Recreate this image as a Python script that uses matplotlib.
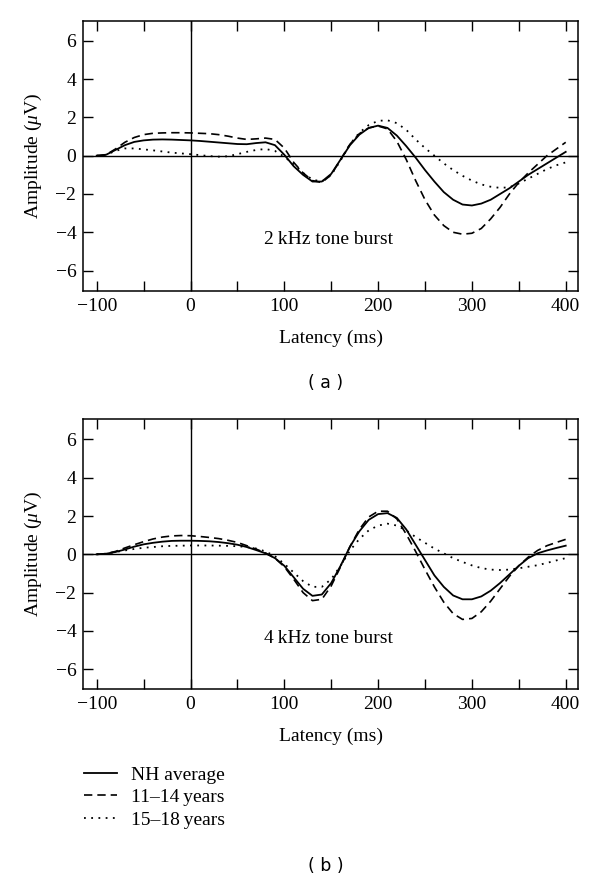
import matplotlib
matplotlib.use("Agg")
import matplotlib.pyplot as plt
from matplotlib.lines import Line2D
from matplotlib.ticker import FixedLocator, FuncFormatter

plt.rcParams['font.family'] = ['Liberation Serif', 'DejaVu Serif']
plt.rcParams['mathtext.fontset'] = 'custom'
plt.rcParams['mathtext.rm'] = 'Liberation Serif'
plt.rcParams['mathtext.it'] = 'Liberation Serif:italic'
plt.rcParams['axes.unicode_minus'] = True

latency = list(range(-100, 401, 10))

nh_2k = [0.0, 0.05, 0.3, 0.55, 0.72, 0.8, 0.84, 0.85, 0.84, 0.82,
         0.8, 0.77, 0.73, 0.69, 0.65, 0.61, 0.6, 0.66, 0.7, 0.55,
         0.05, -0.55, -1.0, -1.35, -1.35, -0.95, -0.2, 0.55, 1.1, 1.45,
         1.57, 1.45, 1.05, 0.5, -0.1, -0.75, -1.35, -1.9, -2.3, -2.55,
         -2.6, -2.5, -2.3, -2.0, -1.7, -1.35, -1.0, -0.7, -0.4, -0.1, 0.2]
y1114_2k = [0.0, 0.05, 0.35, 0.7, 0.95, 1.1, 1.17, 1.19, 1.2, 1.2,
            1.19, 1.17, 1.15, 1.1, 1.02, 0.92, 0.85, 0.88, 0.92, 0.85,
            0.4, -0.35, -0.9, -1.3, -1.4, -1.0, -0.2, 0.6, 1.15, 1.45,
            1.55, 1.4, 0.75, -0.2, -1.3, -2.3, -3.1, -3.65, -4.0, -4.1,
            -4.05, -3.8, -3.3, -2.7, -2.0, -1.4, -0.9, -0.45, 0.0, 0.35, 0.7]
y1518_2k = [0.0, 0.05, 0.25, 0.38, 0.38, 0.33, 0.28, 0.22, 0.16, 0.12,
            0.08, 0.03, -0.02, -0.05, -0.03, 0.08, 0.2, 0.3, 0.35, 0.25,
            -0.05, -0.45, -0.9, -1.25, -1.35, -1.0, -0.25, 0.6, 1.2, 1.6,
            1.82, 1.85, 1.7, 1.35, 0.85, 0.4, 0.0, -0.4, -0.75, -1.05,
            -1.3, -1.5, -1.62, -1.68, -1.65, -1.45, -1.2, -0.95, -0.7, -0.5, -0.35]

nh_4k = [0.0, 0.03, 0.12, 0.25, 0.4, 0.52, 0.6, 0.66, 0.7, 0.71,
         0.71, 0.7, 0.68, 0.64, 0.58, 0.5, 0.38, 0.22, 0.05, -0.2,
         -0.6, -1.2, -1.8, -2.17, -2.1, -1.5, -0.6, 0.4, 1.2, 1.8,
         2.1, 2.15, 1.9, 1.3, 0.5, -0.3, -1.1, -1.7, -2.15, -2.35,
         -2.35, -2.2, -1.9, -1.5, -1.05, -0.6, -0.2, 0.05, 0.2, 0.33, 0.45]
y1114_4k = [0.0, 0.03, 0.15, 0.33, 0.5, 0.66, 0.8, 0.9, 0.96, 0.98,
            0.97, 0.93, 0.88, 0.82, 0.73, 0.62, 0.45, 0.27, 0.07, -0.2,
            -0.65, -1.3, -2.0, -2.42, -2.35, -1.65, -0.65, 0.4, 1.3, 1.95,
            2.25, 2.25, 1.85, 1.05, 0.15, -0.8, -1.7, -2.5, -3.1, -3.4,
            -3.35, -3.0, -2.45, -1.8, -1.15, -0.6, -0.15, 0.2, 0.45, 0.62, 0.78]
y1518_4k = [0.0, 0.03, 0.12, 0.2, 0.28, 0.34, 0.38, 0.42, 0.44, 0.45,
            0.46, 0.46, 0.46, 0.45, 0.44, 0.42, 0.38, 0.3, 0.15, -0.1,
            -0.5, -0.95, -1.4, -1.7, -1.7, -1.3, -0.6, 0.2, 0.8, 1.25,
            1.5, 1.6, 1.5, 1.25, 0.9, 0.6, 0.3, 0.05, -0.2, -0.4,
            -0.58, -0.72, -0.8, -0.82, -0.8, -0.73, -0.65, -0.57, -0.45, -0.32, -0.2]

series_labels = ['NH average', '11\u201314\u2009years', '15\u201318\u2009years']
panel_titles = ['2\u2009kHz tone burst', '4\u2009kHz tone burst']
panel_tags = ['( a )', '( b )']
xticks = list(range(-100, 401, 50))
yticks = [-6, -4, -2, 0, 2, 4, 6]

W, H = 600, 886
fig = plt.figure(figsize=(6, 8.86), dpi=100)

def fx(px):
    return px / W

def fy(py):
    return 1 - py / H

FS = 14
styles = [dict(ls='-', lw=1.3), dict(ls=(0, (5, 3)), lw=1.2), dict(ls=(0, (1, 3)), lw=1.3)]
panels = [(20.7, [nh_2k, y1114_2k, y1518_2k]), (419.3, [nh_4k, y1114_4k, y1518_4k])]

left, right = 83.3, 578.0
ax_h = 270.0
for i, (top, data) in enumerate(panels):
    ax = fig.add_axes([fx(left), fy(top + ax_h), (right - left) / W, ax_h / H])
    ax.axvline(0, color='black', lw=1.0, zorder=1)
    ax.axhline(0, color='black', lw=1.0, zorder=1)
    for vals, st in zip(data, styles):
        ax.plot(latency, vals, color='black', **st, zorder=2)
    ax.set_xlim(-114.3, 413.1)
    ax.set_ylim(-7.05, 7.05)
    ax.xaxis.set_major_locator(FixedLocator(xticks))
    ax.xaxis.set_major_formatter(FuncFormatter(
        lambda v, p: ('\u2212%d' % abs(v) if v < 0 else '%d' % v) if int(round(v)) % 100 == 0 else ''))
    ax.yaxis.set_major_locator(FixedLocator(yticks))
    ax.yaxis.set_major_formatter(FuncFormatter(
        lambda v, p: '\u2212%d' % abs(v) if v < 0 else '%d' % v))
    ax.tick_params(direction='in', length=7, width=1.0, top=True, right=True,
                   labelsize=FS, pad=5)
    for s in ax.spines.values():
        s.set_linewidth(1.1)
    ax.set_xlabel('Latency (ms)', fontsize=FS)
    ax.xaxis.set_label_coords(0.5, -(338 - 290.7) / ax_h)
    ax.xaxis.label.set_va('center')
    ax.set_ylabel(r'Amplitude ($\mathit{\mu}$V)', fontsize=FS)
    ax.yaxis.set_label_coords(-(83.3 - 33) / (right - left), 0.5)
    ax.yaxis.label.set_va('center')
    ax.text(147, -4.4, panel_titles[i], fontsize=FS, ha='center', va='center')

fig.text(fx(326), fy(383), panel_tags[0], fontsize=12.5, family='DejaVu Sans',
         ha='center', va='center')
fig.text(fx(326), fy(866), panel_tags[1], fontsize=12.5, family='DejaVu Sans',
         ha='center', va='center')

handles = [Line2D([], [], color='black', **st) for st in styles]
leg = fig.legend(handles, series_labels, loc='upper left',
                 bbox_to_anchor=(fx(84), fy(766)), frameon=False, fontsize=FS,
                 handlelength=1.7, handletextpad=0.7, labelspacing=0.25,
                 borderpad=0, borderaxespad=0)

fig.savefig('out.png', dpi=100)
